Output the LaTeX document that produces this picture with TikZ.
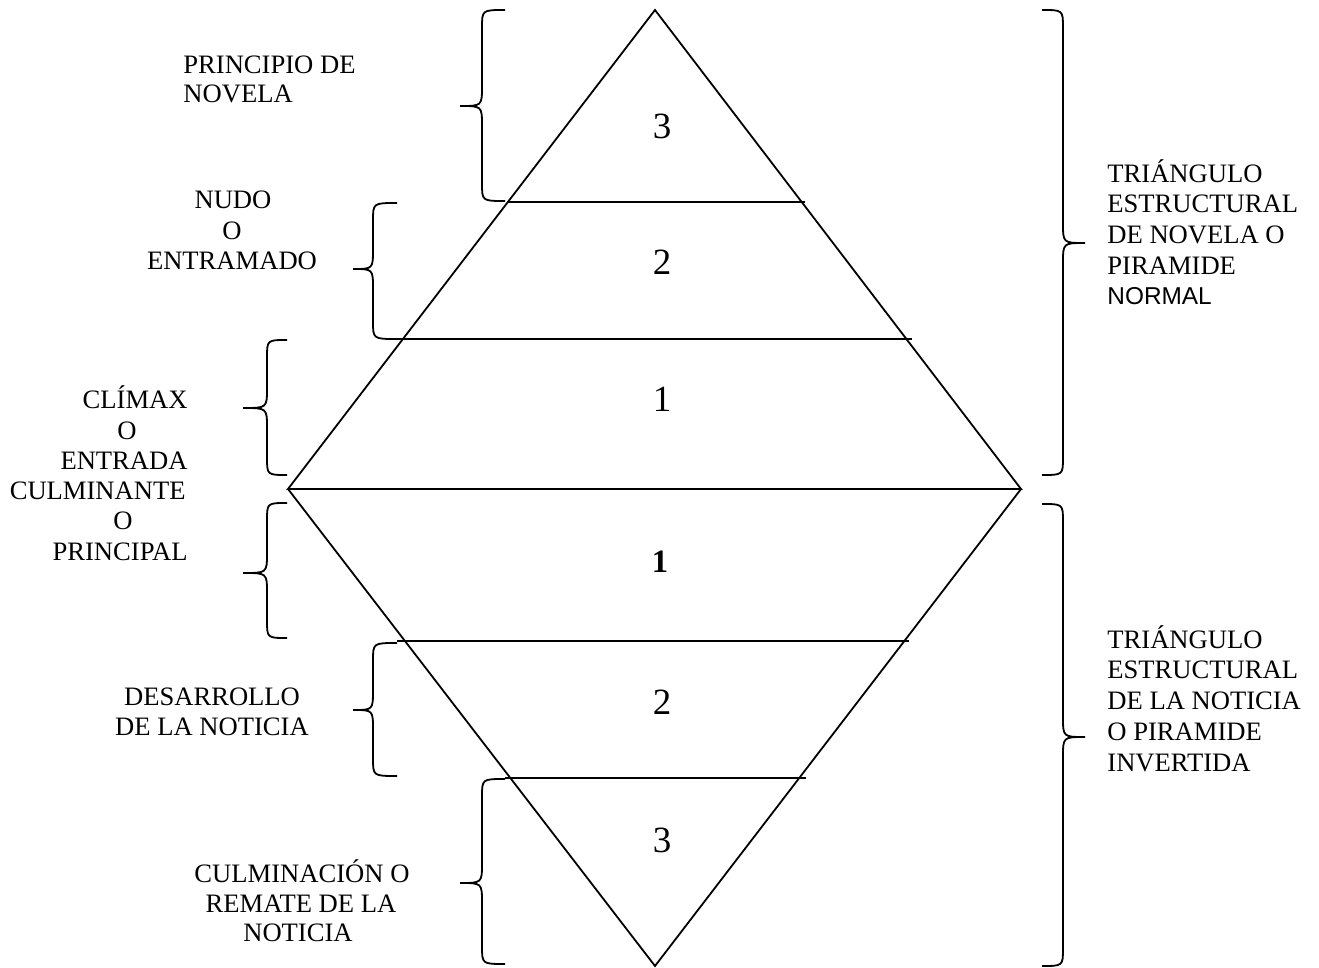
\documentclass[tikz,border=0pt]{standalone}
\usepackage{fontspec}
\setmainfont{Liberation Serif}
\newfontfamily\arialfont{Liberation Sans}
\begin{document}
\begin{tikzpicture}[x=0.5pt,y=-0.5pt,
  ln/.style={line width=0.9pt, line join=miter},
  br/.style={line width=0.9pt},
  lbl/.style={inner sep=0pt, font=\fontsize{13.3}{15}\selectfont},
  num/.style={inner sep=0pt, anchor=base, font=\fontsize{18.5}{20}\selectfont},
  bnum/.style={inner sep=0pt, anchor=base, font=\fontsize{16.3}{18}\selectfont\bfseries}]
\useasboundingbox (0,0) rectangle (1319,968);
% brace macro: tip x, spine x, point x, y top, y mid, y bottom
\newcommand\mybrace[6]{%
  \draw[br] (#1,#4) .. controls (#2,#4) .. (#2,#4+18) -- (#2,#5-20)
    .. controls (#2,#5) .. (#3,#5) .. controls (#2,#5) .. (#2,#5+20)
    -- (#2,#6-18) .. controls (#2,#6) .. (#1,#6);}
% vertices
\coordinate (top) at (655,10);
\coordinate (L) at (288,489);
\coordinate (R) at (1021,489);
\coordinate (bot) at (655,966);
\draw[ln] (L) -- (top) -- (R) -- cycle;
\draw[ln] (L) -- (bot) -- (R);
% horizontal division lines
\coordinate (a1) at (507,202); \coordinate (a2) at (805,202);
\coordinate (b1) at (397,339); \coordinate (b2) at (912,339);
\coordinate (c1) at (397,641); \coordinate (c2) at (909,641);
\coordinate (d1) at (505,778); \coordinate (d2) at (806,778);
\draw[ln] (a1) -- (a2);
\draw[ln] (b1) -- (b2);
\draw[ln] (c1) -- (c2);
\draw[ln] (d1) -- (d2);
% braces
\mybrace{505}{482}{460}{10}{106}{201}
\mybrace{397}{373}{353}{203}{269}{339}
\mybrace{287}{267}{243}{340}{408}{475}
\mybrace{287}{267}{243}{503}{573}{638}
\mybrace{397}{373}{353}{643}{710}{776}
\mybrace{505}{482}{460}{779}{883}{964}
\mybrace{1042}{1063}{1085}{10}{243}{475}
\mybrace{1042}{1063}{1085}{504}{737}{966}
% numbers
\node[num] (n3a) at (662,139) {3};
\node[num] (n2a) at (662,275) {2};
\node[num] (n1a) at (662,412) {1};
\node[bnum] (n1b) at (660,573) {1};
\node[num] (n2b) at (662,714) {2};
\node[num] (n3b) at (662,852) {3};
% left labels
\node[lbl,anchor=base west] (p1) at (183,74) {PRINCIPIO DE};
\node[lbl,anchor=base west] (p2) at (183,103) {NOVELA};
\node[lbl,anchor=base] (u1) at (233,209) {NUDO};
\node[lbl,anchor=base] (u2) at (232,240) {O};
\node[lbl,anchor=base] (u3) at (232,270) {ENTRAMADO};
\node[lbl,anchor=base east] (c1t) at (188,409) {CLÍMAX};
\node[lbl,anchor=base] (c2t) at (127,440) {O};
\node[lbl,anchor=base east] (c3t) at (188,470) {ENTRADA};
\node[lbl,anchor=base east] (c4t) at (186,500) {CULMINANTE};
\node[lbl,anchor=base] (c5t) at (123,530) {O};
\node[lbl,anchor=base east] (c6t) at (188,560) {PRINCIPAL};
\node[lbl,anchor=base] (d1t) at (212,705) {DESARROLLO};
\node[lbl,anchor=base] (d2t) at (212,735) {DE LA NOTICIA};
\node[lbl,anchor=base] (e1t) at (302,882) {CULMINACIÓN O};
\node[lbl,anchor=base] (e2t) at (301,912) {REMATE DE LA};
\node[lbl,anchor=base] (e3t) at (298,941) {NOTICIA};
% right labels
\node[lbl,anchor=base west] (r1) at (1107,183) {TRIÁNGULO};
\node[lbl,anchor=base west] (r2) at (1107,213) {ESTRUCTURAL};
\node[lbl,anchor=base west] (r3) at (1107,244) {DE NOVELA O};
\node[lbl,anchor=base west] (r4) at (1107,275) {PIRAMIDE};
\node[lbl,anchor=base west,font=\fontsize{12.2}{15}\selectfont\arialfont] (r5) at (1107,305) {NORMAL};
\node[lbl,anchor=base west] (s1) at (1107,648) {TRIÁNGULO};
\node[lbl,anchor=base west] (s2) at (1107,678) {ESTRUCTURAL};
\node[lbl,anchor=base west] (s3) at (1107,709) {DE LA NOTICIA};
\node[lbl,anchor=base west] (s4) at (1107,740) {O PIRAMIDE};
\node[lbl,anchor=base west] (s5) at (1107,771) {INVERTIDA};
\end{tikzpicture}
\end{document}
